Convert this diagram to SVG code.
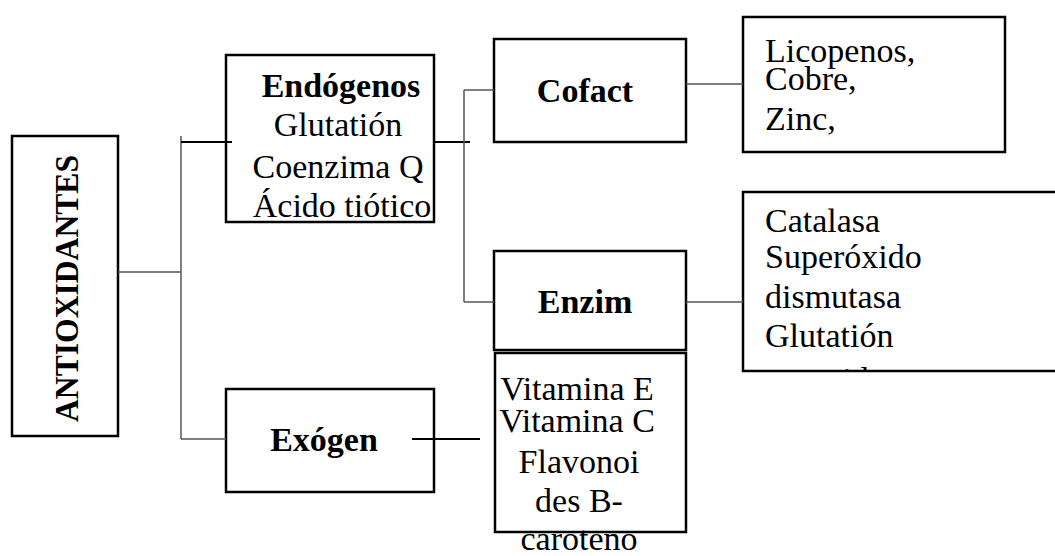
<svg xmlns="http://www.w3.org/2000/svg" width="1055" height="556" viewBox="0 0 1055 556">
<style>
.box{fill:#fff;stroke:#000;stroke-width:2.5}
.t{font-family:"Liberation Serif","Times New Roman",serif;font-size:34px;fill:#000}
.b{font-weight:bold}
.c{fill:none;stroke:#555;stroke-width:1.5}
.k{fill:none;stroke:#000;stroke-width:2}
</style>
<defs>
<clipPath id="catClip"><rect x="744" y="193" width="320" height="177"/></clipPath>
</defs>
<rect width="1055" height="556" fill="#fff"/>
<g id="antioxidantes">
<rect class="box" x="12" y="136" width="106" height="300"/>
<text class="t b" transform="translate(78 422) rotate(-90)" font-size="36" textLength="267" lengthAdjust="spacingAndGlyphs">ANTIOXIDANTES</text>
</g>
<g id="endogenos">
<rect class="box" x="226" y="55" width="208" height="167"/>
<text class="t" text-anchor="middle"><tspan class="b" x="341" y="97">Endógenos</tspan><tspan x="338" y="136">Glutatión</tspan><tspan x="338" y="178">Coenzima Q</tspan><tspan x="342" y="217">Ácido tiótico</tspan></text>
</g>
<g id="exogen">
<rect class="box" x="226" y="389" width="208" height="103"/>
<text class="t b" x="324" y="451" text-anchor="middle">Exógen</text>
</g>
<g id="cofact">
<rect class="box" x="494" y="39" width="192" height="103"/>
<text class="t b" x="585" y="102" text-anchor="middle">Cofact</text>
</g>
<g id="enzim">
<rect class="box" x="494" y="251" width="192" height="99"/>
<text class="t b" x="585" y="313" text-anchor="middle">Enzim</text>
</g>
<g id="vitaminas">
<rect class="box" x="495" y="353" width="191" height="179"/>
<text class="t" text-anchor="middle"><tspan x="577" y="400">Vitamina E</tspan><tspan x="577" y="432">Vitamina C</tspan><tspan x="579" y="473">Flavonoi</tspan><tspan x="579" y="512">des B-</tspan><tspan x="579" y="550">caroteno</tspan></text>
</g>
<g id="cofactores">
<rect class="box" x="743" y="17" width="262" height="135"/>
<text class="t"><tspan x="765" y="62">Licopenos,</tspan><tspan x="765" y="90">Cobre,</tspan><tspan x="765" y="130">Zinc,</tspan></text>
</g>
<g id="enzimas">
<rect class="box" x="743" y="192" width="330" height="179"/>
<g clip-path="url(#catClip)">
<text class="t"><tspan x="765" y="232">Catalasa</tspan><tspan x="765" y="268">Superóxido</tspan><tspan x="765" y="308">dismutasa</tspan><tspan x="765" y="347">Glutatión</tspan><tspan x="765" y="391">peroxidasa</tspan></text>
</g>
</g>
<g id="connectors">
<path class="c" d="M118 272H181M181 136V439M181 439H226"/>
<path class="k" d="M181 142H232"/>
<path class="k" d="M434 142H470"/>
<path class="c" d="M464 90V302M464 90H494M464 302H494"/>
<path class="c" d="M686 84H743"/>
<path class="c" d="M686 302H743"/>
<path class="k" d="M412 439H480"/>
</g>
</svg>
